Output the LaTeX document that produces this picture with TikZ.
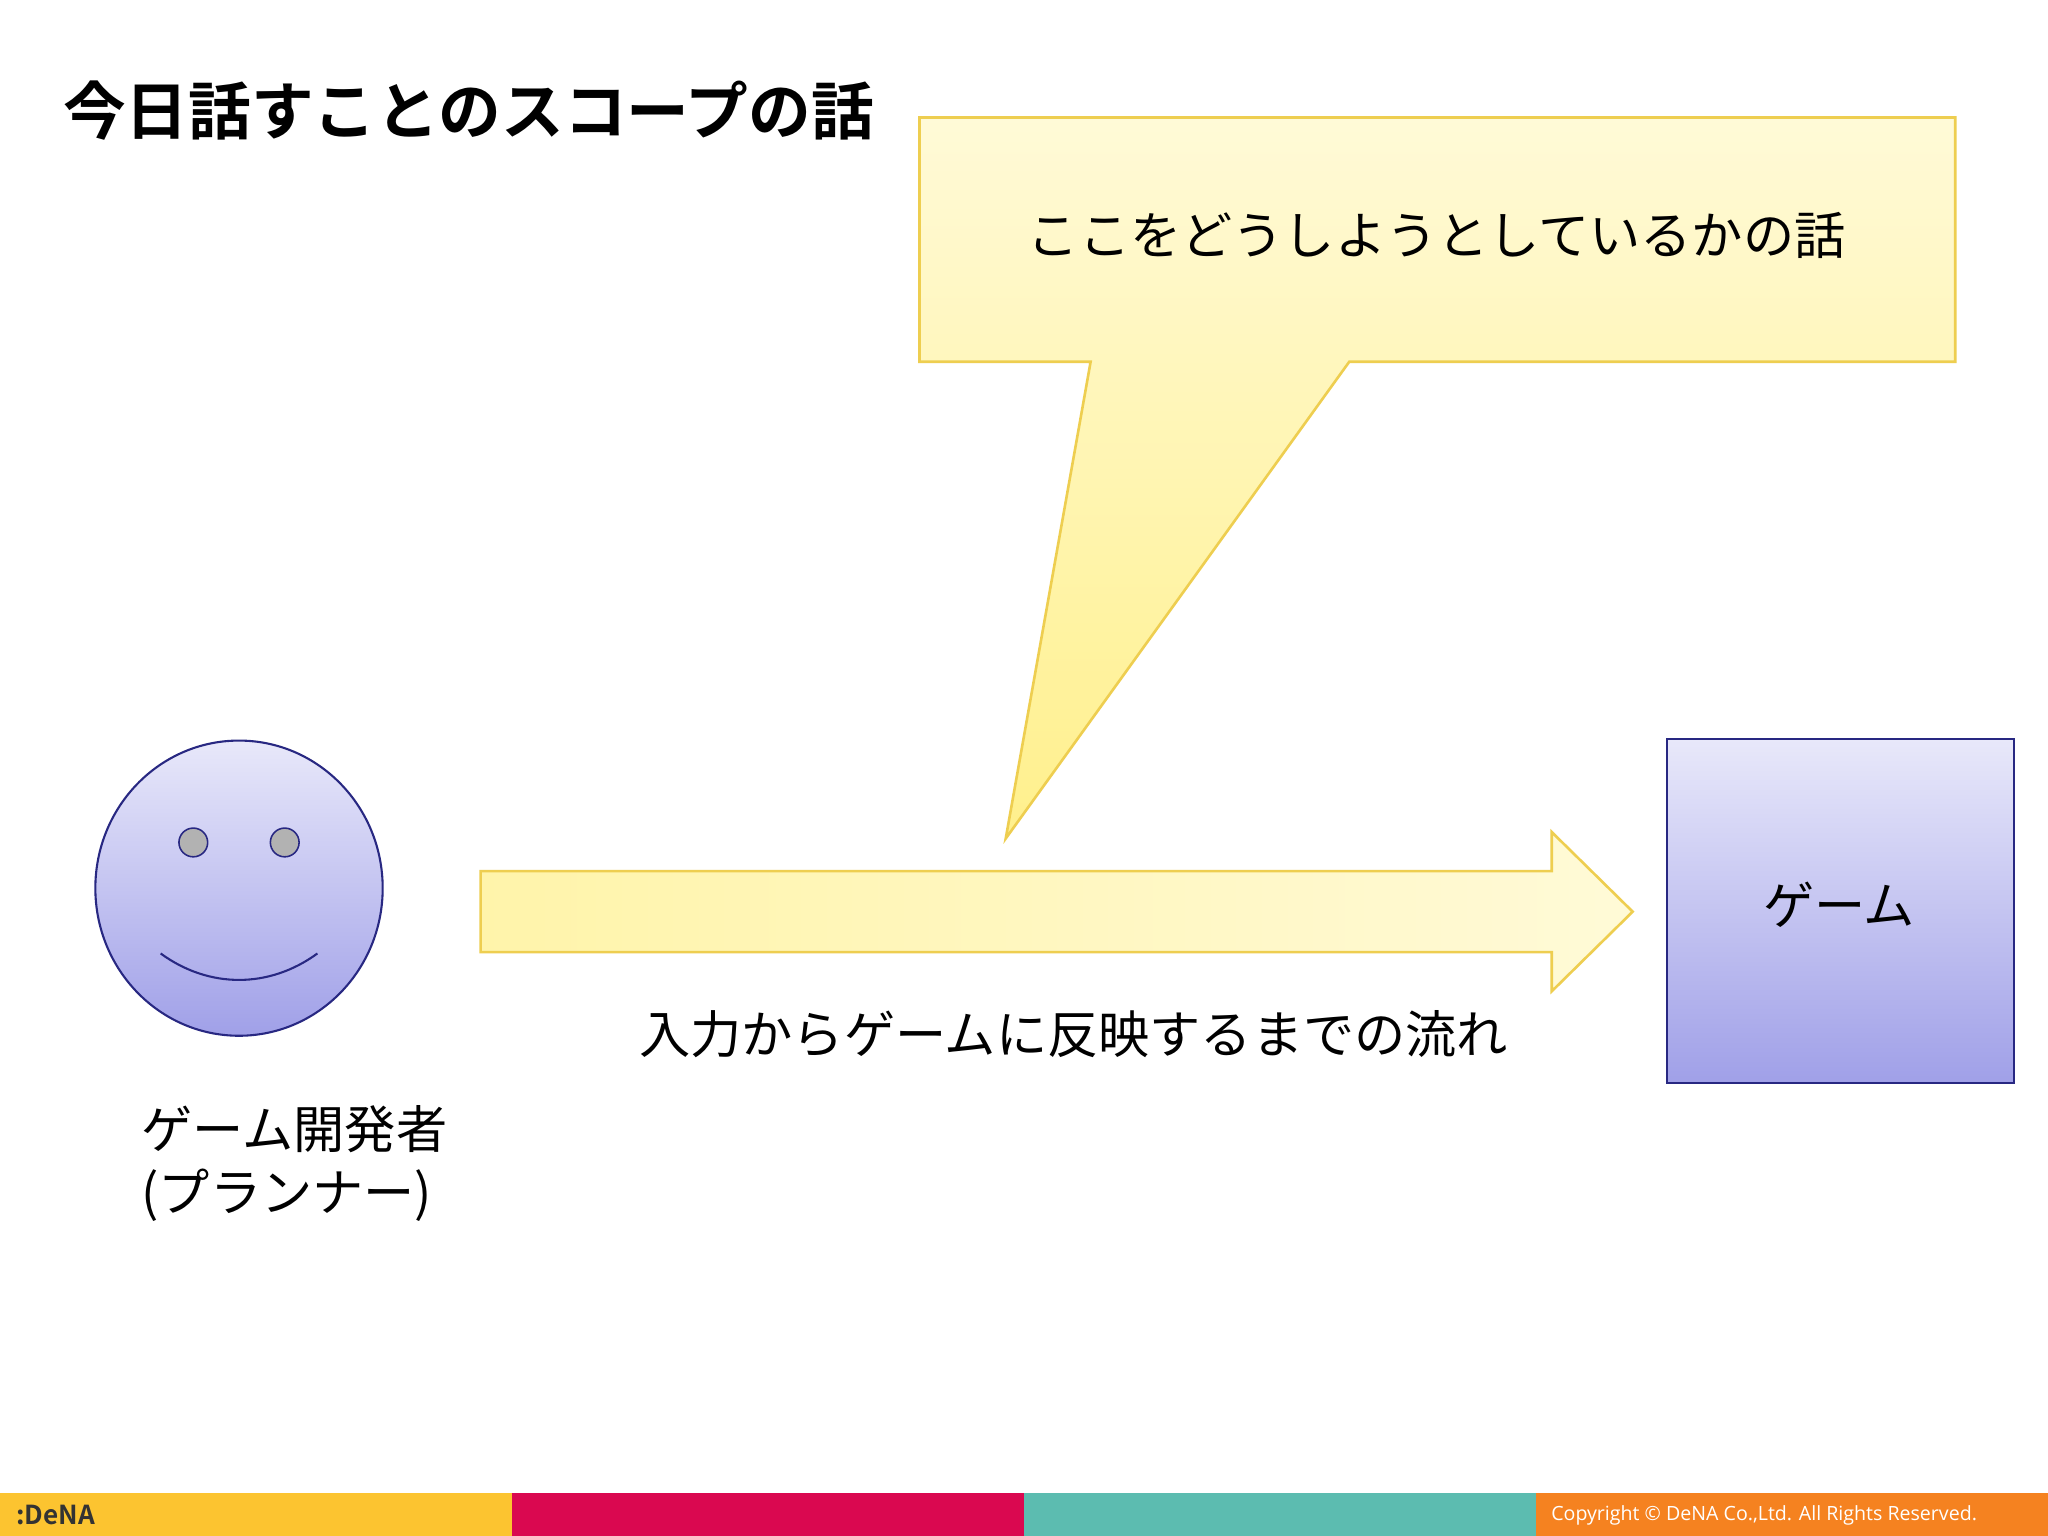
\documentclass[tikz,border=0pt]{standalone}
\usepackage{fontspec}
\setmainfont{Noto Sans CJK JP}
\newfontfamily\jpbold{Noto Sans CJK JP Bold}
\newfontfamily\opensans{Open Sans}
\definecolor{cbord}{RGB}{238,206,80}
\definecolor{ylt}{RGB}{255,250,215}
\definecolor{ydk}{RGB}{255,240,140}
\definecolor{llt}{RGB}{232,232,250}
\definecolor{ldk}{RGB}{160,160,232}
\definecolor{navy}{RGB}{40,40,130}
\definecolor{byel}{RGB}{252,196,48}
\definecolor{bred}{RGB}{218,8,80}
\definecolor{bteal}{RGB}{92,188,176}
\definecolor{bora}{RGB}{245,130,32}
\tikzset{lbl/.style={font=\fontsize{19.6pt}{24pt}\selectfont, inner sep=0pt}}
\begin{document}
\begin{tikzpicture}[x=0.5pt,y=-0.5pt]
\useasboundingbox (0,0) rectangle (1568,1176);
\fill[white] (0,0) rectangle (1568,1176);
\node[anchor=west, inner sep=0pt, font=\jpbold\fontsize{24pt}{27pt}\selectfont] (title) at (48,85) {今日話すことのスコープの話};
% callout
\draw[cbord, line width=1pt, top color=ylt, bottom color=ydk]
 (704,90) -- (1497,90) -- (1497,277) -- (1033,277) -- (770,642) -- (835,277) -- (704,277) -- cycle;
\node[lbl] (ct) at (1100,180) {ここをどうしようとしているかの話};
% smiley
\draw[navy, line width=0.8pt, top color=llt, bottom color=ldk] (183,680) ellipse [x radius=110, y radius=113];
\draw[navy, fill=gray!60, line width=0.6pt] (148,645) circle [radius=11];
\draw[navy, fill=gray!60, line width=0.6pt] (218,645) circle [radius=11];
\draw[navy, line width=0.8pt] (123,730) .. controls (160,757) and (206,757) .. (243,730);
% arrow
\draw[cbord, line width=1pt, left color=ydk!60!ylt, right color=ylt]
 (368,667) -- (1188,667) -- (1188,637) -- (1250,698) -- (1188,759) -- (1188,729) -- (368,729) -- cycle;
\node[lbl] (fl) at (822,792) {入力からゲームに反映するまでの流れ};
% game box
\draw[navy, line width=0.8pt, top color=llt, bottom color=ldk] (1276,566) rectangle (1542,829);
\node[lbl] (game) at (1408,693) {ゲーム};
\node[lbl, anchor=north west, align=left] (dev) at (108,846) {ゲーム開発者\\(プランナー)};
% bottom bar
\fill[byel] (0,1143) rectangle (392,1176);
\fill[bred] (392,1143) rectangle (784,1176);
\fill[bteal] (784,1143) rectangle (1176,1176);
\fill[bora] (1176,1143) rectangle (1568,1176);
\node[anchor=west, inner sep=0pt, font=\jpbold\fontsize{10pt}{12pt}\selectfont, text=black!80] (logo) at (12,1160) {:DeNA};
\node[anchor=east, inner sep=0pt, text=white, font=\opensans\fontsize{7.5pt}{9pt}\selectfont] (copy) at (1514,1160) {Copyright © DeNA Co.,Ltd. All Rights Reserved.};
\end{tikzpicture}
\end{document}
